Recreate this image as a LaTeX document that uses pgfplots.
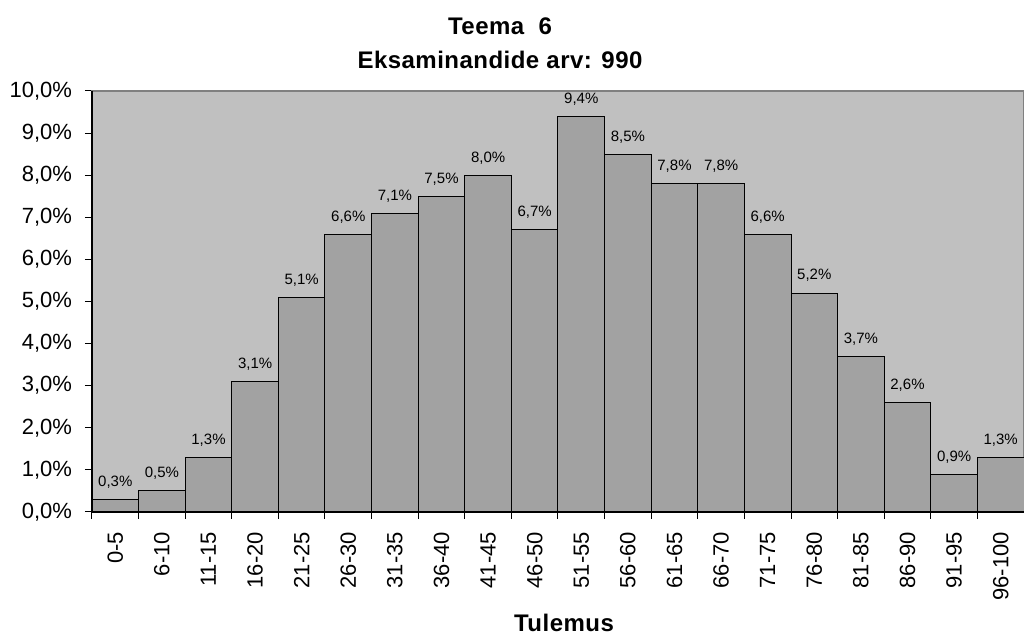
\documentclass[border=0pt]{standalone}
\usepackage{pgfplots}
\pgfplotsset{compat=1.18}
\usepackage{fontspec}
\setmainfont{Liberation Sans}
\definecolor{bgc}{RGB}{192,192,192}
\definecolor{barc}{RGB}{162,162,162}
\definecolor{topc}{RGB}{128,128,128}
\begin{document}
\begin{tikzpicture}
\begin{axis}[
  at={(0,0)}, anchor=south west,
  width=466pt, height=210.5pt, scale only axis,
  xmin=-0.5, xmax=19.5, ymin=0, ymax=10,
  axis background/.style={fill=bgc},
  axis line style={topc, line width=0.6pt},
  ybar, bar width=1, bar shift=0pt,
  xtick={-0.5,0.5,...,19.5},
  x tick label as interval,
  xticklabels={0-5,6-10,11-15,16-20,21-25,26-30,31-35,36-40,41-45,46-50,51-55,56-60,61-65,66-70,71-75,76-80,81-85,86-90,91-95,96-100},
  xticklabel style={rotate=90, anchor=east, font=\fontsize{11}{13}\selectfont},
  xticklabel shift=3pt,
  tick align=outside, major tick length=3.5pt,
  tick style={black, line width=0.5pt},
  ytick={0,1,...,10},
  yticklabels={{0,0\%},{1,0\%},{2,0\%},{3,0\%},{4,0\%},{5,0\%},{6,0\%},{7,0\%},{8,0\%},{9,0\%},{10,0\%}},
  yticklabel style={font=\fontsize{11}{13}\selectfont},
  yticklabel shift=3pt,
  ytick pos=left, xtick pos=bottom,
  nodes near coords={\pgfmathprintnumber[use comma,fixed,fixed zerofill,precision=1]{\pgfplotspointmeta}\%},
  every node near coord/.append style={font=\fontsize{7.5}{9}\selectfont, yshift=2pt},
  /pgf/number format/assume math mode=true,
  clip=false,
]
\addplot[fill=barc, draw=black, line width=0.5pt] coordinates {
(0,0.3) (1,0.5) (2,1.3) (3,3.1) (4,5.1) (5,6.6) (6,7.1) (7,7.5) (8,8.0) (9,6.7)
(10,9.4) (11,8.5) (12,7.8) (13,7.8) (14,6.6) (15,5.2) (16,3.7) (17,2.6) (18,0.9) (19,1.3)};
\draw[black, line width=0.6pt] (rel axis cs:0,1) -- (rel axis cs:0,0) -- (rel axis cs:1,0);
\end{axis}
\node[anchor=base, font=\bfseries\fontsize{12}{14}\selectfont\addfontfeature{LetterSpace=2}] at (204pt,238.5pt) {Teema\ \ 6};
\node[anchor=base, font=\bfseries\fontsize{12}{14}\selectfont\addfontfeature{LetterSpace=2}] at (204pt,221.5pt) {Eksaminandide arv: 990};
\node[anchor=base, font=\bfseries\fontsize{12}{14}\selectfont\addfontfeature{LetterSpace=2}] at (236pt,-60pt) {Tulemus};
\pgfresetboundingbox
\path[use as bounding box] (-46pt,-62.5pt) rectangle (466pt,256pt);
\end{tikzpicture}
\end{document}
